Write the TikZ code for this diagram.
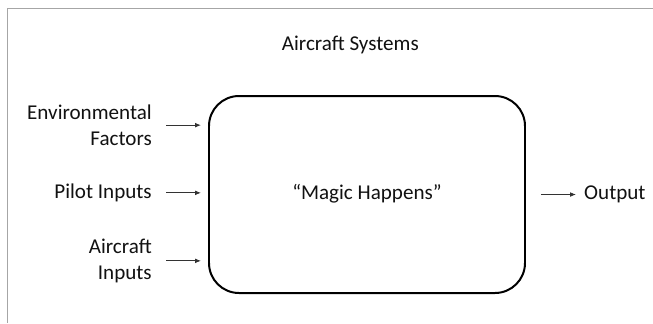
\documentclass[tikz,border=0pt]{standalone}
\usepackage{fontspec}
\setmainfont{Carlito}
\usepackage{tikz}
\usetikzlibrary{arrows.meta,positioning}
\definecolor{textgray}{HTML}{111111}
\definecolor{arrowgray}{HTML}{333333}

\begin{document}
\begin{tikzpicture}[
    font=\fontsize{18}{22.5}\selectfont,
    >={Latex[length=5pt,width=4pt]},
    every node/.style={text=textgray, inner sep=0pt, align=right},
    inarrow/.style={->, draw=arrowgray, line width=0.7pt, shorten <=0.42cm, shorten >=0.21cm}
]
    \useasboundingbox (0,0) rectangle (19.59,-9.69);
    % Frame
    \draw[gray!70, line width=0.8pt] (19.59,-0.24) -- (0.21,-0.24) -- (0.21,-9.69);

    % Nodes
    \node[draw=black, line width=1.7pt, rounded corners=0.9cm, minimum width=9.48cm, minimum height=5.91cm, align=center] (box) at (11.01,-5.835) {\raisebox{4pt}{“Magic Happens”}};
    \node[above=1.23cm of box.north, xshift=-0.5cm, align=center] (title) {Aircraft Systems};
    \node[left=1.68cm of box.west, yshift=2.08cm] (env) {Environmental\\Factors};
    \node[left=1.68cm of box.west, yshift=0.05cm] (pilot) {Pilot Inputs};
    \node[left=1.68cm of box.west, yshift=-1.99cm] (acin) {Aircraft\\Inputs};
    \node[right=1.74cm of box.east, align=left] (out) {Output};

    % Arrows
    \draw[inarrow] (env.east) -- (env.east -| box.west);
    \draw[inarrow] (pilot.east) -- (pilot.east -| box.west);
    \draw[inarrow] (acin.east) -- (acin.east -| box.west);
    \draw[inarrow, shorten <=0.45cm, shorten >=0.24cm] (out.west -| box.east) -- (out.west);
\end{tikzpicture}
\end{document}
